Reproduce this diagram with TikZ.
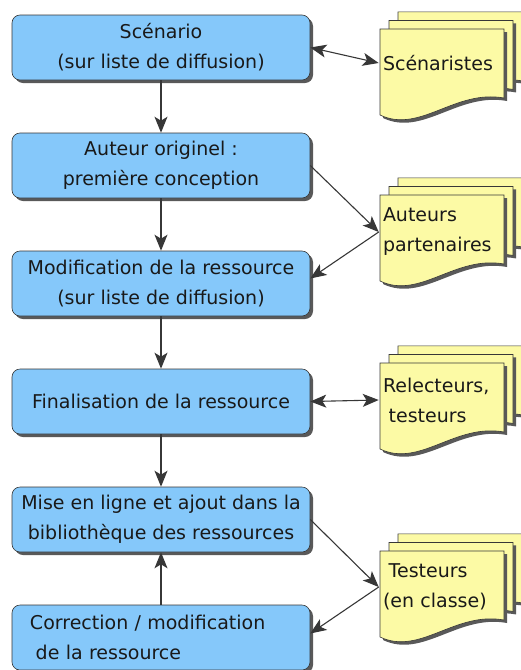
\documentclass[tikz,border=0pt]{standalone}
\usepackage{fontspec}
\setmainfont{DejaVu Sans}
\usepackage{xcolor}
\usetikzlibrary{arrows.meta,shadows,positioning}
\definecolor{bleu}{RGB}{133,200,250}
\definecolor{jaune}{RGB}{252,250,165}
\definecolor{trait}{RGB}{55,55,55}

\begin{document}
\begin{tikzpicture}[x=1pt,y=1pt,node distance=118pt,semithick]
  \tikzstyle{etape}=[draw=trait, fill=bleu, rounded corners=8pt, minimum width=298pt, minimum height=65pt,
    inner sep=2pt, align=center, text=black!90, font=\fontsize{19}{30}\selectfont,
    drop shadow={shadow xshift=3pt, shadow yshift=-3pt, fill=black!65, opacity=1}]
  \tikzstyle{page}=[draw=trait, fill=jaune]
  \tikzstyle{ombre}=[fill=black!65]
  \tikzstyle{doc}=[minimum width=124pt, minimum height=70pt, text width=116pt, inner sep=0pt,
    align=left, text=black!90, font=\fontsize{19}{30}\selectfont]
  \tikzstyle{fleche}=[-{Stealth[length=16pt,width=13pt,inset=4pt]}, draw=trait, line width=1.1pt]
  \tikzstyle{allerretour}=[{Stealth[length=16pt,width=13pt,inset=4pt]}-{Stealth[length=16pt,width=13pt,inset=4pt]}, draw=trait, line width=1.1pt]

  \useasboundingbox (0,0) rectangle (520,-670);

  % etapes
  \node[etape] (scenario) at (161,-47.5) {Scénario\\(sur liste de diffusion)};
  \node[etape] (auteur) [below of=scenario] {Auteur originel :\\première conception};
  \node[etape] (modif) [below of=auteur] {Modification de la ressource\\(sur liste de diffusion)};
  \node[etape] (final) [below of=modif] {Finalisation de la ressource};
  \node[etape] (miseenligne) [below of=final] {Mise en ligne et ajout dans la\\bibliothèque des ressources};
  \node[etape, text width=262pt, align=left] (correction) [below of=miseenligne] {Correction / modification\\\hspace{0.3em}de la ressource};

  % piles de documents
  \foreach \haut in {29,195,363,551}{
    \foreach \d in {18,9,0}{
      \begin{scope}[shift={(380+\d,-\haut+0.95*\d)}]
        \fill[ombre] (3,-3) -- (127,-3) -- (127,-72) .. controls (78,-63) and (43,-108) .. (3,-89) -- cycle;
        \draw[page] (0,0) -- (124,0) -- (124,-69) .. controls (75,-60) and (40,-105) .. (0,-86) -- cycle;
      \end{scope}
    }
  }
  \node[doc] (scenaristes) at (441,-63) {Scénaristes};
  \node[doc] (auteurs) at (441,-232) {Auteurs\\partenaires};
  \node[doc] (relecteurs) at (441,-400) {Relecteurs,\\\hspace{0.3em}testeurs};
  \node[doc] (testeurs) at (441,-587) {\hspace{0.3em}Testeurs\\(en classe)};

  % fleches
  \foreach \i/\j in {scenario/auteur, auteur/modif, modif/final, final/miseenligne}{
    \draw[fleche] (\i) -- (\j);
  }
  \draw[fleche] (correction) -- (miseenligne);
  \draw[allerretour] (scenario.east) -- (scenaristes.west);
  \draw[fleche] (auteur.east) -- (auteurs.west);
  \draw[fleche] (auteurs.west) -- ([yshift=5pt]modif.east);
  \draw[allerretour] (final.east) -- (relecteurs.west);
  \draw[fleche] (miseenligne.east) -- (testeurs.west);
  \draw[fleche] (testeurs.west) -- ([yshift=4pt]correction.east);
\end{tikzpicture}
\end{document}
